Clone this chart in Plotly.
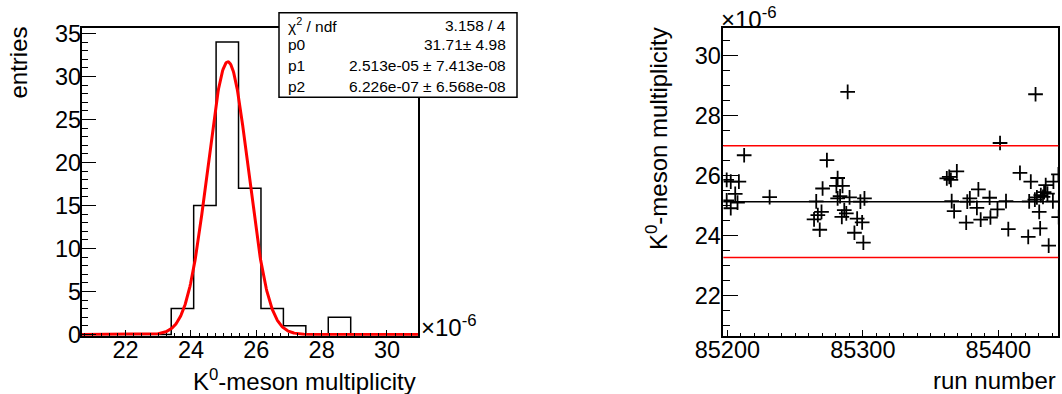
import numpy as np
import plotly.graph_objects as go

W, H = 1062, 394
FONT = "Liberation Sans, Arial, Helvetica, sans-serif"

# ---------------- data ----------------
# left: histogram of K0-meson multiplicity (x in units of 1e-6)
hist_low, hist_high = 20.65, 30.95
hist_counts = [0, 0, 0, 0, 3, 15, 34, 17, 3, 1, 0, 2, 0, 0, 0]

# Gaussian fit result shown in the stats box
fit_names = ["p0", "p1", "p2"]
fit_values = [31.71, 2.513e-05, 6.226e-07]
fit_errors = [4.98, 7.413e-08, 6.568e-08]
chi2_text = "3.158 / 4"
stat_values_text = ["31.71\u00b1 4.98", "2.513e-05 \u00b1 7.413e-08", "6.226e-07 \u00b1 6.568e-08"]

# right: multiplicity per run (y in units of 1e-6)
run_number = [85199.5, 85202.5, 85199.5, 85202.5, 85205.8, 85208.5, 85207.5, 85212.4, 85231.2,
              85264.0, 85265.6, 85266.8, 85268.2, 85269.5, 85270.3, 85273.5, 85281.4, 85280.5,
              85285.0, 85281.4, 85283.2, 85284.5, 85286.3, 85287.8, 85288.8, 85290.2, 85293.8,
              85295.8, 85298.2, 85299.5, 85300.4, 85301.2, 85362.0, 85363.8, 85365.0, 85369.4,
              85365.6, 85367.4, 85376.3, 85377.1, 85379.0, 85384.2, 85385.3, 85387.0, 85393.6,
              85394.2, 85399.4, 85401.3, 85405.7, 85407.4, 85416.0, 85422.1, 85424.0, 85422.8,
              85427.5, 85427.0, 85428.5, 85430.2, 85430.9, 85431.4, 85433.0, 85433.8, 85435.0,
              85436.3, 85437.2, 85440.3, 85440.7, 85444.4, 85444.6]
multiplicity = [25.86, 25.80, 25.17, 24.91, 25.39, 25.80, 25.10, 26.68, 25.28,
                24.54, 25.14, 24.68, 24.19, 24.79, 25.57, 26.52, 25.92, 25.66,
                25.66, 25.24, 25.31, 24.62, 24.85, 24.74, 28.80, 25.27, 24.09,
                24.56, 25.13, 24.44, 23.76, 25.24, 25.91, 25.96, 25.86, 26.14,
                25.15, 24.81, 24.43, 25.13, 25.24, 24.92, 25.54, 24.53, 25.26,
                24.60, 24.87, 27.09, 25.15, 24.21, 26.09, 23.95, 25.80, 25.14,
                28.72, 25.20, 25.27, 24.79, 24.24, 25.35, 25.29, 25.45, 25.68,
                25.40, 23.66, 25.14, 25.80, 26.04, 24.61]

# ---------------- derived ----------------
nb = len(hist_counts)
bw = (hist_high - hist_low) / nb
edges = [hist_low + i * bw for i in range(nb + 1)]
step_y = hist_counts + [hist_counts[-1]]

amp = fit_values[0]
mean = fit_values[1] * 1e6
sigma = fit_values[2] * 1e6
xf = np.linspace(hist_low, hist_high, 600)
yf = amp * np.exp(-0.5 * ((xf - mean) / sigma) ** 2)


def px(x):
    return x / W


def py(y):
    return 1 - y / H


# frame geometry (pixels)
L_X0, L_X1 = 81.5, 418.0
R_X0, R_X1 = 723.3, 1058.3
Y_TOP, Y_BOT = 27.5, 335.7

fig = go.Figure()

fig.add_trace(go.Scatter(x=edges, y=step_y, mode="lines", line=dict(color="black", width=1.5, shape="hv"),
                         xaxis="x", yaxis="y", showlegend=False, hoverinfo="skip"))
fig.add_trace(go.Scatter(x=xf, y=yf, mode="lines", line=dict(color="#ff0000", width=3),
                         xaxis="x", yaxis="y", showlegend=False, hoverinfo="skip"))
fig.add_trace(go.Scatter(x=run_number, y=multiplicity, mode="markers",
                         marker=dict(symbol="cross-thin", size=10.5, color="black",
                                     line=dict(color="black", width=1.8)),
                         xaxis="x2", yaxis="y2", showlegend=False, hoverinfo="skip"))

tickfont = dict(family=FONT, size=23.5, color="black")
common = dict(showline=True, linecolor="black", linewidth=1.5, mirror=True, showgrid=False,
              zeroline=False, ticks="inside", tickcolor="black", tickwidth=1.2, tickfont=tickfont,
              automargin=False)

fig.update_layout(
    width=W, height=H, margin=dict(l=0, r=0, t=0, b=0, autoexpand=False),
    paper_bgcolor="white", plot_bgcolor="white",
    xaxis=dict(domain=[px(L_X0), px(L_X1)], range=[hist_low, hist_high], anchor="y",
               tickmode="linear", tick0=22, dtick=2, ticklen=6, ticklabelstandoff=-8,
               minor=dict(ticks="inside", dtick=0.25, ticklen=3, tickcolor="black", tickwidth=1), **common),
    yaxis=dict(domain=[py(Y_BOT), py(Y_TOP)], range=[-0.15, 35.7], anchor="x",
               tickmode="linear", tick0=0, dtick=5, ticklen=15, ticklabelstandoff=-6,
               minor=dict(ticks="inside", dtick=1, ticklen=7, tickcolor="black", tickwidth=1), **common),
    xaxis2=dict(domain=[px(R_X0), px(R_X1)], range=[85197, 85444.3], anchor="y2",
                tickmode="linear", tick0=85200, dtick=100, ticklen=6, tickformat="d",
                ticklabelstandoff=-8,
                minor=dict(ticks="inside", dtick=10, ticklen=3, tickcolor="black", tickwidth=1), **common),
    yaxis2=dict(domain=[py(Y_BOT), py(Y_TOP)], range=[hist_low, hist_high], anchor="x2",
                tickmode="linear", tick0=22, dtick=2, ticklen=15, ticklabelstandoff=-4,
                minor=dict(ticks="inside", dtick=0.5, ticklen=7, tickcolor="black", tickwidth=1), **common),
)

line_levels = [mean, mean + 3 * sigma, mean - 3 * sigma]
line_colors = ["black", "#ff0000", "#ff0000"]
for lv, lc in zip(line_levels, line_colors):
    fig.add_shape(type="line", xref="x2 domain", yref="y2", x0=0, x1=1, y0=lv, y1=lv,
                  line=dict(color=lc, width=1.5), layer="above")

SB_X0, SB_X1, SB_Y0, SB_Y1 = 279, 517, 12.7, 97.3
fig.add_shape(type="rect", xref="paper", yref="paper", x0=px(SB_X0), x1=px(SB_X1),
              y0=py(SB_Y1), y1=py(SB_Y0), fillcolor="white", line=dict(color="black", width=1.5),
              layer="above")
row_y = [25, 45, 65, 86]
row_left = ["\u03c7<sup>2</sup> / ndf"] + fit_names
row_right = [chi2_text] + stat_values_text
sfont = dict(family=FONT, size=15.5, color="black")
for ry, lt, rt in zip(row_y, row_left, row_right):
    fig.add_annotation(x=px(287), y=py(ry), xref="paper", yref="paper", text=lt, showarrow=False,
                       xanchor="left", yanchor="middle", font=sfont, borderpad=0)
    fig.add_annotation(x=px(507), y=py(ry), xref="paper", yref="paper", text=rt, showarrow=False,
                       xanchor="right", yanchor="middle", font=sfont, borderpad=0)

tfont = dict(family=FONT, size=24, color="black")
fig.add_annotation(x=px(18), y=py(62.5), xref="paper", yref="paper", text="entries", textangle=-90,
                   showarrow=False, xanchor="center", yanchor="middle", font=tfont)
fig.add_annotation(x=px(L_X1), y=py(380), xref="paper", yref="paper", text="K<sup>0</sup>-meson multiplicity",
                   showarrow=False, xanchor="right", yanchor="middle", font=tfont)
fig.add_annotation(x=px(657), y=py(139), xref="paper", yref="paper", text="K<sup>0</sup>-meson multiplicity",
                   textangle=-90, showarrow=False, xanchor="center", yanchor="middle", font=tfont)
fig.add_annotation(x=px(R_X1), y=py(380), xref="paper", yref="paper", text="run number",
                   showarrow=False, xanchor="right", yanchor="middle", font=tfont)
fig.add_annotation(x=px(419), y=py(343), xref="paper", yref="paper", text="\u00d710<sup>-6</sup>",
                   showarrow=False, xanchor="left", yanchor="bottom", font=tfont)
fig.add_annotation(x=px(719), y=py(35), xref="paper", yref="paper", text="\u00d710<sup>-6</sup>",
                   showarrow=False, xanchor="left", yanchor="bottom", font=tfont)

fig.write_html("out.html")
